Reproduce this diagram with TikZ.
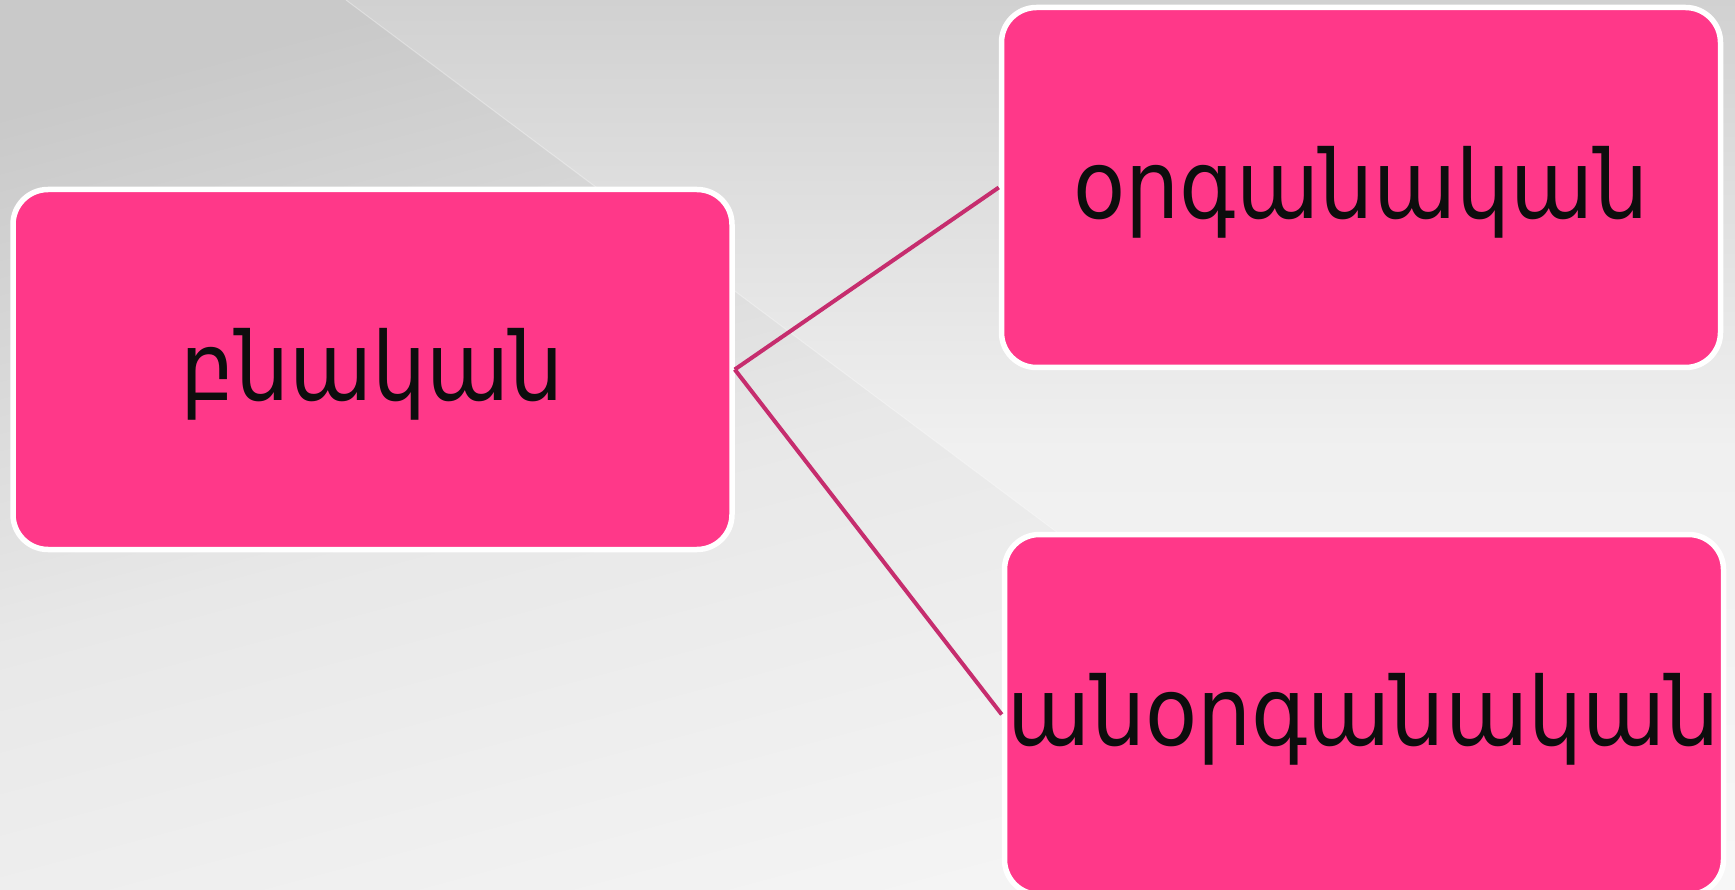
\documentclass[tikz,border=0pt]{standalone}
\usepackage{fontspec}
\newfontfamily\armfont{DejaVu Sans Condensed}
\definecolor{boxpink}{HTML}{FF3889}
\definecolor{linkpink}{HTML}{C62D6E}
\definecolor{labelink}{HTML}{0D0D0D}
% label set with its baseline a fixed distance below the card centre
\newcommand{\cardtext}[1]{\makebox[0pt]{\raisebox{-31pt}[0pt][0pt]{#1}}}
\begin{document}
\begin{tikzpicture}[x=1pt,y=-1pt,
  card/.style={draw=white, line width=5.5pt, fill=boxpink, rounded corners=35pt,
    minimum width=719pt, minimum height=360pt, inner sep=0pt,
    text=labelink, font=\armfont\fontsize{95}{110}\selectfont},
  link/.style={draw=linkpink, line width=4pt}]
  \clip (0,0) rectangle (1735,890);
  % backdrop: soft grey gradient with a darker left wedge
  \shade[top color=black!18, bottom color=black!3, middle color=black!6] (0,0) rectangle (1735,890);
  \shade[top color=black!21, bottom color=black!4, middle color=black!9, shading angle=15]
    (0,0) -- (346,0) -- (1535,890) -- (0,890) -- cycle;
  \draw[white, opacity=0.35, line width=1pt] (346,0) -- (1535,890);
  % boxes
  \node[card] (src) at (372.5,369.5) {\cardtext{բնական}};
  \node[card] (org) at (1361,187.5) {\cardtext{օրգանական}};
  \node[card] (inorg) at (1364,714.5) {\cardtext{անօրգանական}};
  % connectors
  \draw[link] (src.east) -- (org.west);
  \draw[link] (src.east) -- (inorg.west);
\end{tikzpicture}
\end{document}
